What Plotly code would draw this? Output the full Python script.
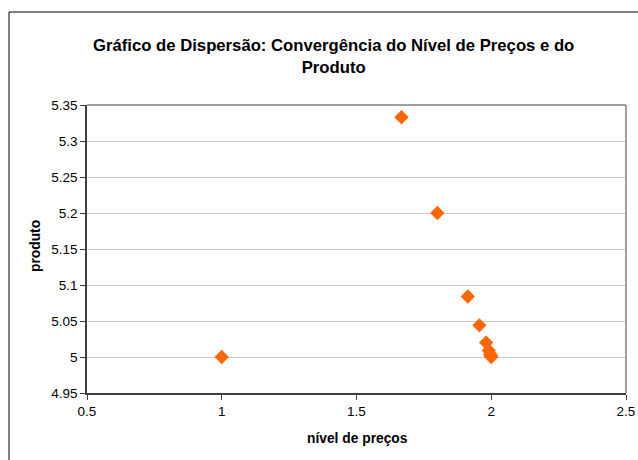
import plotly.graph_objects as go

# Price level and output along the adjustment path
nivel_precos = [1.0, 1.667, 1.8, 1.913, 1.956, 1.981, 1.991, 1.996, 1.998, 1.999, 2.0]
produto = [5.0, 5.333, 5.2, 5.084, 5.044, 5.02, 5.009, 5.004, 5.002, 5.001, 5.0]

x_ticks = [0.5, 1, 1.5, 2, 2.5]
x_tick_text = ["0.5", "1", "1.5", "2", "2.5"]
y_ticks = [4.95, 5.0, 5.05, 5.1, 5.15, 5.2, 5.25, 5.3, 5.35]
y_tick_text = ["4.95", "5", "5.05", "5.1", "5.15", "5.2", "5.25", "5.3", "5.35"]

W, H = 638, 460
ML, MR, MT, MB = 87, 12, 105, 67
PW, PH = W - ML - MR, H - MT - MB

FONT = "Liberation Sans, Arial, sans-serif"

fig = go.Figure()
fig.add_trace(go.Scatter(
    x=nivel_precos, y=produto, mode="markers",
    marker=dict(symbol="diamond", size=11, color="#FF6600",
                line=dict(width=0)),
    showlegend=False, cliponaxis=False,
))


def px_x(p):
    return (p - ML) / PW


def px_y(p):
    return (H - MB - p) / PH


shapes = [
    # outer chart frame (left and top edges visible)
    dict(type="rect", xref="paper", yref="paper",
         x0=px_x(9), x1=px_x(700), y0=px_y(520), y1=px_y(12),
         line=dict(color="black", width=1), layer="below"),
    # plot-area border on the top and right
    dict(type="line", xref="paper", yref="paper",
         x0=0, x1=1, y0=1, y1=1, line=dict(color="#808080", width=1.5)),
    dict(type="line", xref="paper", yref="paper",
         x0=1, x1=1, y0=0, y1=1, line=dict(color="#808080", width=1.5)),
]

annotations = [
    dict(text="<b>Gráfico de Dispersão: Convergência do Nível de Preços e do<br>Produto</b>",
         xref="paper", yref="paper", x=px_x(333), y=px_y(57),
         xanchor="center", yanchor="middle", showarrow=False,
         font=dict(family=FONT, size=16.7, color="black")),
    dict(text="<b>nível de preços</b>", xref="paper", yref="paper",
         x=px_x(357), y=px_y(438), xanchor="center", yanchor="middle",
         showarrow=False, font=dict(family=FONT, size=13.8, color="black")),
    dict(text="<b>produto</b>", xref="paper", yref="paper",
         x=px_x(35), y=px_y(246), xanchor="center", yanchor="middle",
         textangle=-90, showarrow=False,
         font=dict(family=FONT, size=13.8, color="black")),
]

axis_common = dict(
    zeroline=False, automargin=False,
    showline=True, linecolor="#404040", linewidth=1.5,
    ticks="outside", ticklen=5, tickcolor="#404040",
    tickfont=dict(family=FONT, size=13.5, color="black"),
)

fig.update_layout(
    template="none",
    width=W, height=H,
    margin=dict(l=ML, r=MR, t=MT, b=MB, autoexpand=False),
    paper_bgcolor="white", plot_bgcolor="white",
    font=dict(family=FONT, size=12, color="black"),
    shapes=shapes, annotations=annotations,
    xaxis=dict(range=[0.5, 2.5], tickvals=x_ticks, ticktext=x_tick_text,
               showgrid=False, **axis_common),
    yaxis=dict(range=[4.95, 5.35], tickvals=y_ticks, ticktext=y_tick_text,
               showgrid=True, gridcolor="#c8c8c8", gridwidth=1,
               **axis_common),
)

fig.write_html("out.html")
